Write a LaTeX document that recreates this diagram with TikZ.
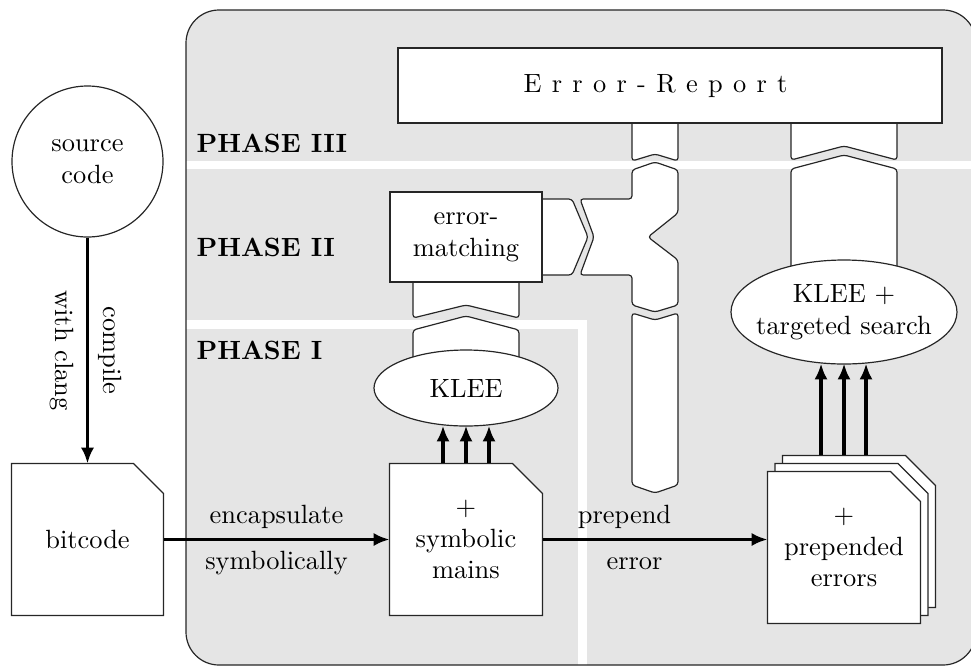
\documentclass[tikz,border=0pt]{standalone}
\usetikzlibrary{arrows.meta,calc,backgrounds,shapes.geometric}
\def\pxu{0.3788pt}
\begin{document}
\begin{tikzpicture}[x=\pxu,y=-\pxu,
  outline/.style={draw=black!85,line width=0.45pt},
  box/.style={outline,fill=white,inner sep=0pt,align=center},
  docnode/.style={inner sep=0pt,align=center,minimum width=152*\pxu,minimum height=151*\pxu},
  docshape/.style={outline,fill=white},
  piece/.style={outline,fill=white,rounded corners=1.2pt},
  flow/.style={-{Latex[length=6pt,width=5pt]},line width=1.3pt},
  phase/.style={font=\bfseries,anchor=west,inner sep=0pt},
  sep/.style={white,line width=3.2pt},
]
\useasboundingbox (0,0) rectangle (971,666);

% grey panel with the phase separators and the chevron links
\begin{pgfonlayer}{background}
  \fill[black!10,rounded corners=12.5pt] (186,10) rectangle (976,665);
  \draw[sep] (186,165) -- (976,165);
  \draw[sep] (186,324.5) -- (582.5,324.5) -- (582.5,670);
  \draw[outline,rounded corners=12.5pt] (186,10) rectangle (976,665);
  % links into the error report
  \draw[piece] (632,110) -- (632,161) -- (655,154) -- (678,161) -- (678,110);
  \draw[piece] (791,110) -- (791,160) -- (844,146) -- (897,160) -- (897,110);
  % targeted search column
  \draw[piece] (791,300) -- (791,169) -- (844,155) -- (897,169) -- (897,300);
  % error-matching to the junction
  \draw[piece] (530,199) -- (572,199) -- (588,237) -- (572,275) -- (530,275);
  % junction
  \draw[piece] (632,170) -- (655,162) -- (678,170) -- (678,213) -- (648,237)
    -- (678,260) -- (678,305) -- (655,312) -- (632,305) -- (632,275)
    -- (580,275) -- (594,237) -- (580,199) -- (632,199) -- cycle;
  % bar down towards prepending
  \draw[piece] (632,313) -- (655,320) -- (678,313) -- (678,485) -- (655,493)
    -- (632,485) -- cycle;
  % KLEE column
  \draw[piece] (413,270) -- (413,318) -- (466,305) -- (519,318) -- (519,270);
  \draw[piece] (413,380) -- (413,330) -- (466,316) -- (519,330) -- (519,380);
\end{pgfonlayer}

% nodes
\node[box,circle,minimum size=151*\pxu] (src) at (87.5,161.5) {source\\code};
\node[docnode,minimum width=151*\pxu] (bitcode) at (87.5,539.5) {bitcode};
\node[docnode] (mains) at (466,539.5) {+\\symbolic\\mains};
\node[docnode] (prepBack) at (859,531.5) {};
\node[docnode] (prepMid) at (851.5,539.5) {};
\node[docnode] (prepended) at (844,547.5) {+\\prepended\\errors};
\node[box,ellipse,minimum width=184*\pxu,minimum height=76*\pxu] (klee) at (466,388) {KLEE};
\node[box,ellipse,inner xsep=-3pt,minimum width=226*\pxu,minimum height=104*\pxu] (kleets) at (844,312) {KLEE +\\targeted search};
\node[box,minimum width=152*\pxu,minimum height=90*\pxu] (matching) at (466,237) {error-\\matching};
\node[box,minimum width=544*\pxu,minimum height=75*\pxu] (report) at (670,85.5) {};
\node[inner sep=0pt] (reporttext) at (655.5,86) {\spaceskip=3.9pt\relax E r r o r - R e p o r t};

% document outlines with a cut corner
\begin{pgfonlayer}{background}
  \foreach \d in {bitcode,mains,prepBack,prepMid,prepended}
    \draw[docshape] (\d.south west) -- (\d.north west) -- ($(\d.north east)+(-30,0)$)
      -- ($(\d.north east)+(0,30)$) -- (\d.south east) -- cycle;
\end{pgfonlayer}

% phase labels
\node[phase] (p3) at (196,143) {PHASE III};
\node[phase] (p2) at (196,247) {PHASE II};
\node[phase] (p1) at (196,350) {PHASE I};

% flow arrows
\draw[flow] (src) -- (bitcode);
\node[rotate=-90] (lblcompile) at ($(src.south)!0.5!(bitcode.north)+(23,0)$) {compile};
\node[rotate=-90] (lblclang) at ($(src.south)!0.5!(bitcode.north)+(-26,0)$) {with clang};

\draw[flow] (bitcode) -- (mains);
\node (lblenc) at ($(bitcode.east)!0.5!(mains.west)+(0,-23)$) {encapsulate};
\node (lblsym) at ($(bitcode.east)!0.5!(mains.west)+(0,24)$) {symbolically};

\draw[flow] (mains.east) -- (mains.east -| prepended.west);
\node (lblprep) at ($(mains.east)+(82,-23)$) {prepend};
\node (lblerr) at ($(mains.east)+(92,24.5)$) {error};

\foreach \dx in {-23,0,23}
  \draw[flow] ($(mains.north)+(\dx,0)$) -- ($(klee.south)+(\dx,-1)$);
\foreach \dx in {-23,0,22}
  \draw[flow] ($(prepBack.north -| kleets.south)+(\dx,0)$) -- ($(kleets.south)+(\dx,-1)$);
\end{tikzpicture}
\end{document}
